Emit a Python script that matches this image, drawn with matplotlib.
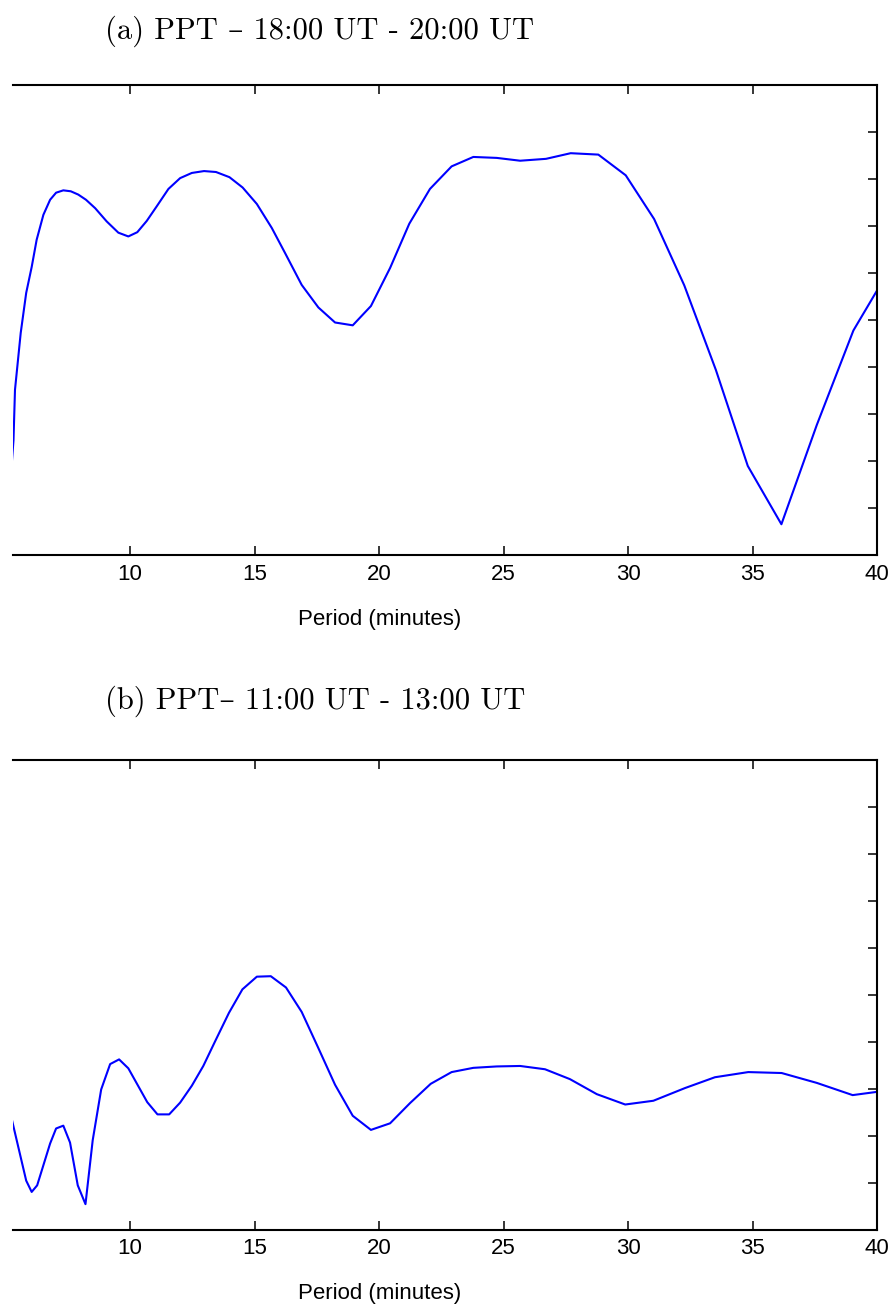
import numpy as np
import matplotlib.pyplot as plt

# panel (a): PPT 18:00-20:00 UT
period_a = [5.25, 5.32, 5.38, 5.61, 5.83, 6.05, 6.25, 6.52, 6.79, 7.03, 7.32, 7.62, 7.92,
            8.23, 8.60, 9.06, 9.53, 9.93, 10.29, 10.67, 11.07, 11.54, 12.01, 12.48, 12.97,
            13.45, 13.99, 14.52, 15.09, 15.69, 16.22, 16.89, 17.56, 18.23, 18.94, 19.67,
            20.44, 21.21, 22.04, 22.91, 23.78, 24.72, 25.66, 26.70, 27.69, 28.80, 29.90,
            31.04, 32.25, 33.52, 34.80, 36.15, 37.57, 39.04, 40.0]
power_a = [1.95, 2.45, 3.52, 4.73, 5.58, 6.13, 6.71, 7.24, 7.56, 7.71, 7.76, 7.74, 7.67,
           7.56, 7.38, 7.10, 6.86, 6.78, 6.87, 7.11, 7.42, 7.79, 8.02, 8.13, 8.17,
           8.15, 8.04, 7.82, 7.47, 6.96, 6.43, 5.75, 5.27, 4.95, 4.89, 5.30,
           6.11, 7.05, 7.79, 8.27, 8.47, 8.45, 8.39, 8.43, 8.55, 8.52, 8.08,
           7.15, 5.74, 3.94, 1.90, 0.66, 2.77, 4.78, 5.64]

# panel (b): PPT 11:00-13:00 UT
period_b = [5.25, 5.32, 5.83, 6.05, 6.27, 6.79, 7.03, 7.32, 7.59, 7.90, 8.21, 8.50, 8.84,
            9.20, 9.56, 9.93, 10.69, 11.10, 11.57, 12.01, 12.48, 12.94, 13.41, 13.97,
            14.51, 15.09, 15.65, 16.26, 16.89, 17.56, 18.23, 18.94, 19.67, 20.44, 21.24,
            22.07, 22.91, 23.78, 24.72, 25.66, 26.66, 27.66, 28.74, 29.88, 31.01, 32.28,
            33.48, 34.82, 36.16, 37.57, 39.01, 40.0]
power_b = [2.36, 2.20, 1.05, 0.81, 0.95, 1.84, 2.16, 2.22, 1.86, 0.95, 0.55, 1.91, 2.99,
           3.53, 3.63, 3.44, 2.72, 2.46, 2.46, 2.71, 3.07, 3.49, 4.01, 4.62,
           5.12, 5.39, 5.40, 5.16, 4.64, 3.87, 3.09, 2.43, 2.13, 2.27, 2.70,
           3.11, 3.36, 3.45, 3.48, 3.49, 3.42, 3.21, 2.89, 2.67, 2.75, 3.02,
           3.25, 3.36, 3.34, 3.13, 2.87, 2.94]

xticks = [10, 15, 20, 25, 30, 35, 40]
titles = ['(a) PPT \u2013 18:00 UT - 20:00 UT', '(b) PPT\u2013 11:00 UT - 13:00 UT']

W, H = 893, 1307
fig = plt.figure(figsize=(W / 100, H / 100), dpi=100)

def px_axes(left, top, right, bottom):
    return fig.add_axes([left / W, 1 - bottom / H, (right - left) / W, (bottom - top) / H])

panels = [(period_a, power_a, 85, 555.3, 31, 620),
          (period_b, power_b, 760, 1230, 701, 1293)]

for i, (px, py, top, bot, ty, ly) in enumerate(panels):
    ax = px_axes(13, top, 877.3, bot)
    ax.plot(px, py, color='#0000ff', lw=1.5)
    ax.set_xlim(5.30, 40)
    ax.set_ylim(0, 10)
    ax.set_xticks(xticks)
    ax.set_yticks(range(1, 10))
    ax.tick_params(direction='in', length=6.5, width=1.1, top=True, right=True,
                   left=False, labelleft=False, labelsize=16, pad=6)
    for lab in ax.get_xticklabels():
        lab.set_family('Liberation Sans')
    ax.spines['left'].set_visible(False)
    for s in ['top', 'right', 'bottom']:
        ax.spines[s].set_linewidth(1.5)
    fig.text(105 / W, 1 - ty / H, titles[i], family=['cmr10', 'DejaVu Serif'],
             fontsize=22, ha='left', va='center')
    fig.text(380 / W, 1 - ly / H, 'Period (minutes)', family='Liberation Sans',
             fontsize=16, ha='center', va='center')

fig.savefig('out.png', dpi=100)
